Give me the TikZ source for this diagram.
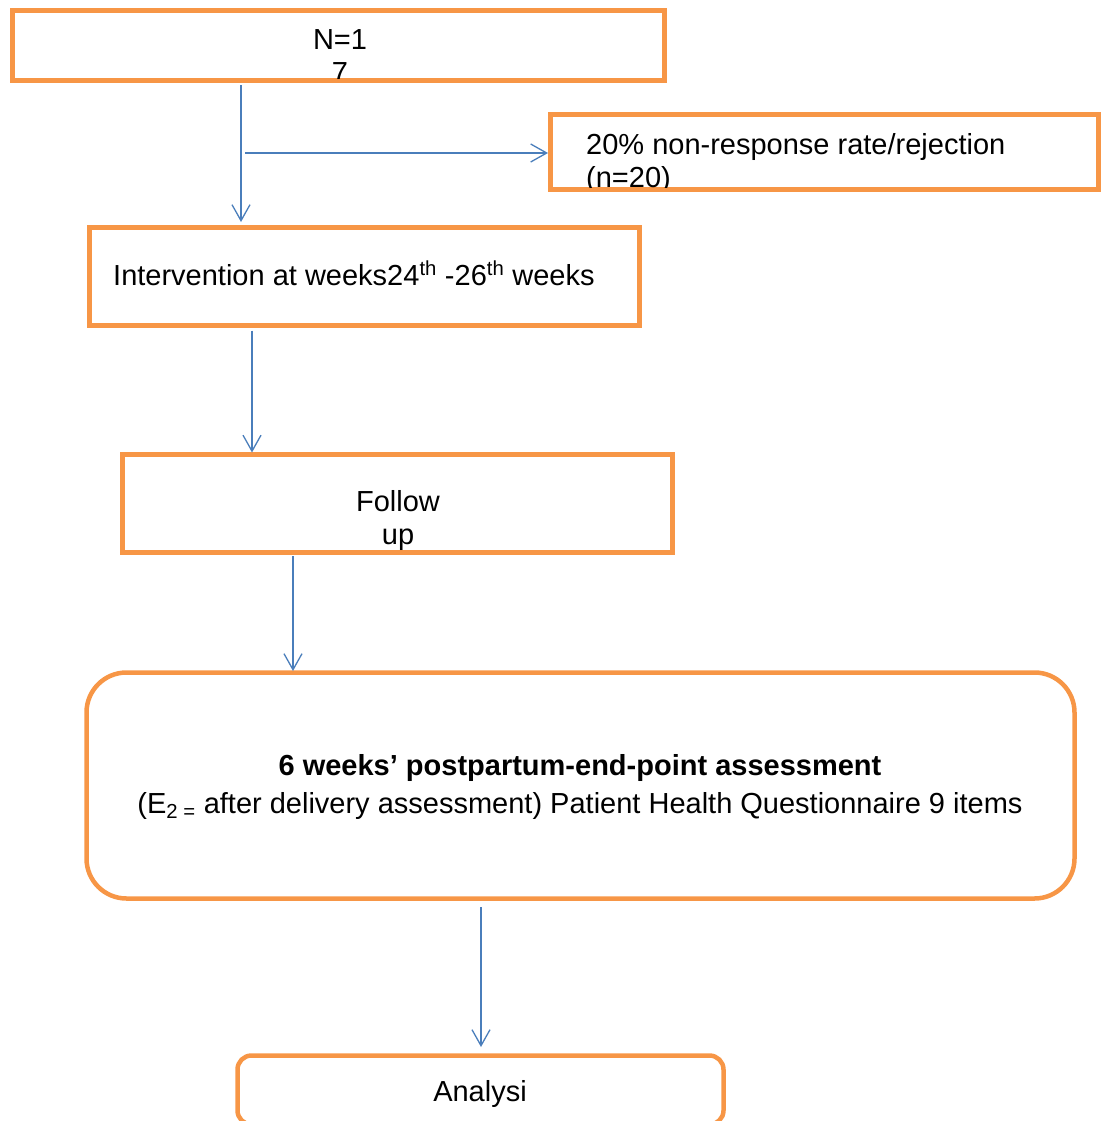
\documentclass[tikz,border=0pt]{standalone}
\usepackage{fontspec}
\setmainfont{Liberation Sans}
\usetikzlibrary{arrows.meta}
\definecolor{boxorange}{HTML}{F79646}
\definecolor{lineblue}{HTML}{4A7EBB}
\begin{document}
\begin{tikzpicture}[x=1pt,y=-1pt,
  box/.style={draw=boxorange, line width=4.5pt, inner sep=0pt, outer sep=0pt},
  rbox/.style={box, rounded corners=#1},
  arr/.style={draw=lineblue, line width=1.3pt, -{Straight Barb[length=16pt,width=18pt]}},
  txt/.style={inner sep=0pt, font=\fontsize{29}{33}\selectfont},
]
\useasboundingbox (0,0) rectangle (1102,1121);

% boxes
\node[box, minimum width=652pt, minimum height=70pt] (top) at (338.5,45.5) {};
\node[box, minimum width=548pt, minimum height=75pt] (side) at (824.5,152) {};
\node[box, minimum width=550pt, minimum height=98pt] (interv) at (364.5,276.5) {};
\node[box, minimum width=550pt, minimum height=98pt] (follow) at (397.5,503.5) {};
\node[rbox=40pt, minimum width=988pt, minimum height=226pt] (big) at (580.5,785.5) {};
\node[rbox=14pt, minimum width=486pt, minimum height=69pt] (analysis) at (480.5,1090) {};

% texts (multi-line nodes: base anchor = baseline of last line)
\begin{scope}
\clip ([xshift=2.25pt,yshift=-2.25pt]top.north west) rectangle ([xshift=-2.25pt,yshift=2.25pt]top.south east);
\node[txt, align=center, anchor=base] (ttop) at (340,83) {N=1\\7};
\end{scope}
\begin{scope}
\clip ([xshift=2.25pt,yshift=-2.25pt]side.north west) rectangle ([xshift=-2.25pt,yshift=2.25pt]side.south east);
\node[txt, align=left, anchor=base west] (tside) at (586,187) {20\% non-response rate/rejection\\(n=20)};
\end{scope}
\node[txt, anchor=base west] (tint) at (113,285) {Intervention at weeks24\textsuperscript{th} -26\textsuperscript{th} weeks};
\node[txt, align=center, anchor=base] (tfollow) at (398,544) {Follow\\up};
\node[txt, align=center, anchor=base, font=\fontsize{29}{38}\selectfont] (tbig) at (580,813) {\textbf{6 weeks’ postpartum-end-point assessment}\\(E\textsubscript{2 =} after delivery assessment) Patient Health Questionnaire 9 items};
\node[txt, anchor=base] (tana) at (480,1101) {Analysi};

% connectors
\coordinate (c1) at (241,0);
\coordinate (c2) at (245,153);
\coordinate (c3) at (252,0);
\coordinate (c4) at (293,0);
\coordinate (c5) at (481,0);
\draw[arr, shorten >=5.5pt] ([yshift=-5pt]top.south -| c1) -- (interv.north -| c1);
\draw[arr, shorten >=2.5pt] (c2) -- (side.west |- c2);
\draw[arr, shorten >=2pt] ([yshift=-5pt]interv.south -| c3) -- (follow.north -| c3);
\draw[arr, shorten >=1.5pt] ([yshift=-3.5pt]follow.south -| c4) -- (big.north -| c4);
\draw[arr, shorten >=8.5pt] ([yshift=-8.5pt]big.south -| c5) -- (analysis.north -| c5);
\end{tikzpicture}
\end{document}
